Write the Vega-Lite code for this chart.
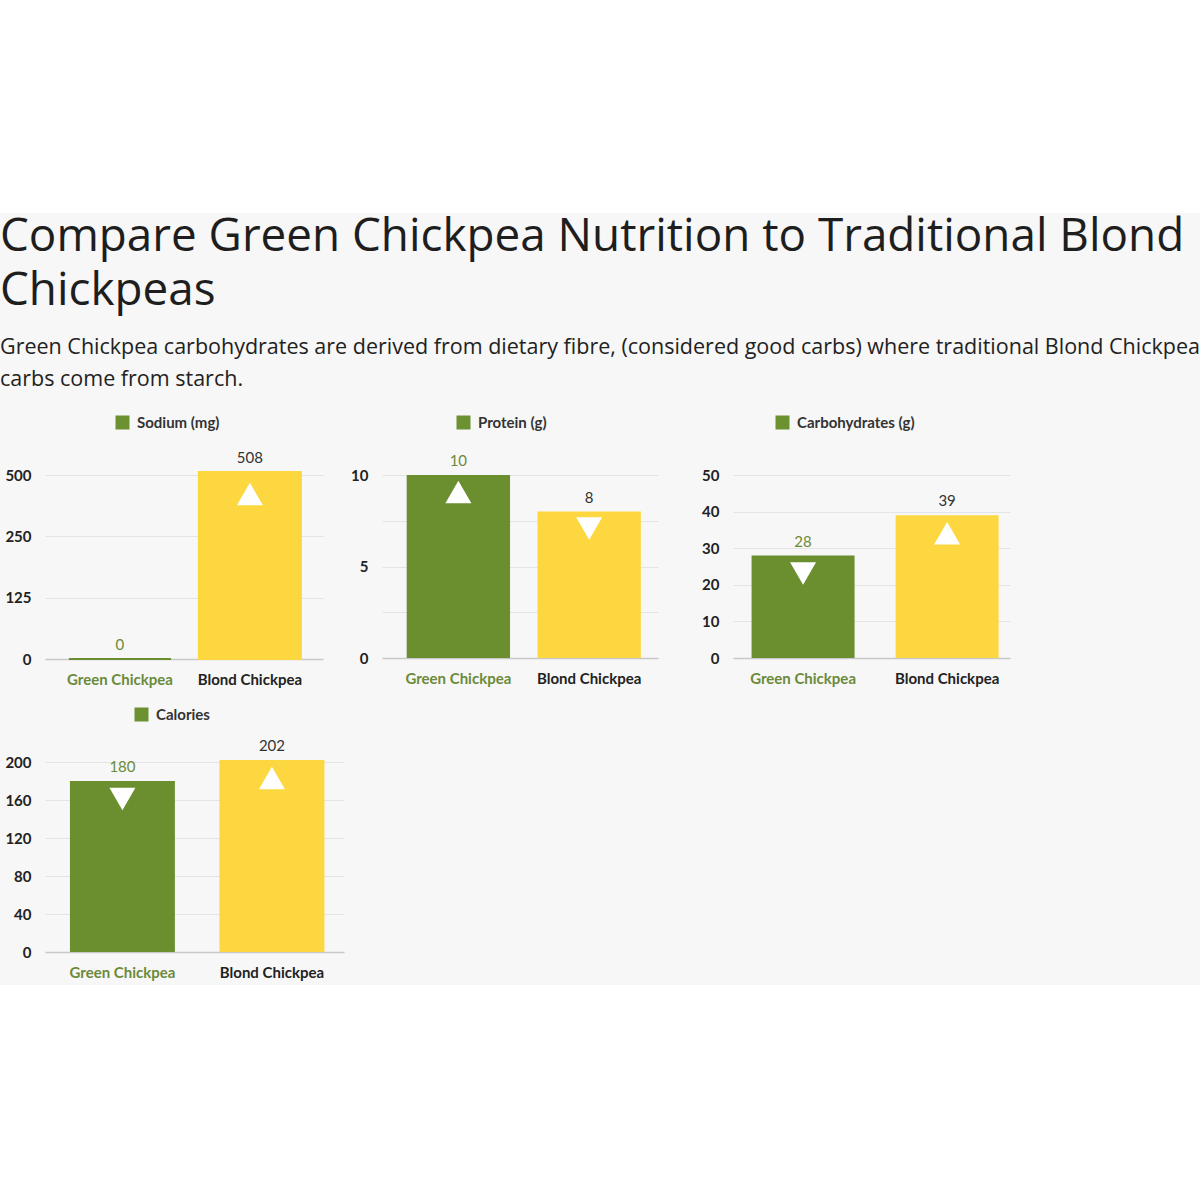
{
  "$schema": "https://vega.github.io/schema/vega-lite/v6.json",
  "background": "#f7f7f7",
  "padding": 0,
  "spacing": 0,
  "align": "none",
  "resolve": {"scale": {"opacity": "independent"}, "legend": {"opacity": "independent"}},
  "datasets": {
    "nutrition": [
      {"nutrient": "Sodium (mg)", "variety": "Green Chickpea", "value": 0, "arrow": "none"},
      {"nutrient": "Sodium (mg)", "variety": "Blond Chickpea", "value": 508, "arrow": "up"},
      {"nutrient": "Protein (g)", "variety": "Green Chickpea", "value": 10, "arrow": "up"},
      {"nutrient": "Protein (g)", "variety": "Blond Chickpea", "value": 8, "arrow": "down"},
      {"nutrient": "Carbohydrates (g)", "variety": "Green Chickpea", "value": 28, "arrow": "down"},
      {"nutrient": "Carbohydrates (g)", "variety": "Blond Chickpea", "value": 39, "arrow": "up"},
      {"nutrient": "Calories", "variety": "Green Chickpea", "value": 180, "arrow": "down"},
      {"nutrient": "Calories", "variety": "Blond Chickpea", "value": 202, "arrow": "up"}
    ]
  },
  "config": {
    "view": {"stroke": null},
    "font": "Lato",
    "axis": {"labelFont": "Lato", "labelFontSize": 15, "labelColor": "#222222", "labelFontWeight": "bold"},
    "axisX": {"domainColor": "#c8c8c8", "domainWidth": 1.5, "ticks": false, "grid": false, "labelAngle": 0, "labelPadding": 13},
    "axisY": {"domain": false, "ticks": false, "grid": true, "gridColor": "#e4e4e4", "gridWidth": 1, "labelPadding": 14},
    "legend": {"padding": 0, "labelFont": "Lato", "labelFontSize": 15, "labelColor": "#333333", "labelFontWeight": "bold", "symbolType": "square", "symbolSize": 196, "symbolFillColor": "#6b9130", "symbolStrokeWidth": 0, "labelOffset": 7},
    "title": {"font": "Open Sans", "fontSize": 45.8, "fontWeight": "normal", "color": "#1e1e1e", "anchor": "start", "frame": "bounds", "lineHeight": 54, "subtitleFont": "Open Sans", "subtitleFontSize": 21.5, "subtitleColor": "#222222", "subtitleLineHeight": 32, "subtitlePadding": 22, "offset": 24}
  },
  "vconcat": [
    {
      "width": 1110, "height": 123,
      "view": {"fill": "white", "stroke": "white", "strokeWidth": 90},
      "data": {"values": [{"k": 1}]},
      "mark": {"type": "text", "text": " "},
      "encoding": {}
    },
    {
      "title": {
        "text": ["Compare Green Chickpea Nutrition to Traditional Blond", "Chickpeas"],
        "subtitle": ["Green Chickpea carbohydrates are derived from dietary fibre, (considered good carbs) where traditional Blond Chickpea", "carbs come from starch."]
      },
      "spacing": 20,
      "align": "none",
      "resolve": {"scale": {"opacity": "independent"}, "legend": {"opacity": "independent"}},
      "vconcat": [
        {
          "spacing": 14,
          "resolve": {"scale": {"opacity": "independent"}, "legend": {"opacity": "independent"}},
          "hconcat": [
            {
              "width": 278, "height": 184,
              "data": {"name": "nutrition"},
              "transform": [{"filter": "datum.nutrient === 'Sodium (mg)'"}],
              "encoding": {
                "x": {"field": "variety", "type": "nominal", "sort": ["Green Chickpea", "Blond Chickpea"], "title": null,
                  "scale": {"paddingInner": 0.215, "paddingOuter": 0.177, "align": 0.52},
                  "axis": {"labelColor": {"condition": {"test": "datum.value === 'Green Chickpea'", "value": "#6b8a3a"}, "value": "#222222"}}},
                "y": {"field": "value", "type": "quantitative", "title": null,
                  "scale": {"domain": [0, 500], "nice": false},
                  "axis": {"values": [0, 166.667, 333.333, 500], "labelExpr": "datum.value < 1 ? '0' : datum.value < 200 ? '125' : datum.value < 400 ? '250' : '500'", "minExtent": 45}}
              },
              "layer": [
                {
                  "mark": {"type": "bar", "y2Offset": -3, "strokeWidth": 2},
                  "encoding": {
                    "color": {"field": "variety", "type": "nominal", "scale": {"domain": ["Green Chickpea", "Blond Chickpea"], "range": ["#6b8e2f", "#fdd73f"]}, "legend": null},
                    "stroke": {"field": "variety", "type": "nominal", "scale": {"domain": ["Green Chickpea", "Blond Chickpea"], "range": ["#6b8e2f", "#fdd73f"]}, "legend": null},
                    "opacity": {"field": "nutrient", "type": "ordinal", "scale": {"range": [1, 1]}, "legend": {"title": null, "orient": "none", "legendX": 70, "legendY": -60}}
                  }
                },
                {
                  "mark": {"type": "text", "baseline": "bottom", "dy": -6, "fontSize": 15, "font": "Lato"},
                  "encoding": {
                    "text": {"field": "value", "type": "quantitative"},
                    "color": {"condition": {"test": "datum.variety === 'Green Chickpea'", "value": "#6b8a3a"}, "value": "#333333"}
                  }
                },
                {
                  "transform": [{"filter": "datum.arrow !== 'none'"}],
                  "mark": {"type": "point", "filled": true, "fill": "white", "opacity": 1, "strokeWidth": 0, "size": 676, "yOffset": 22},
                  "encoding": {
                    "shape": {"field": "arrow", "type": "nominal", "scale": {"domain": ["up", "down"], "range": ["triangle-up", "triangle-down"]}, "legend": null}
                  }
                }
              ]
            },
            {
              "width": 276, "height": 183,
              "data": {"name": "nutrition"},
              "transform": [{"filter": "datum.nutrient === 'Protein (g)'"}],
              "encoding": {
                "x": {"field": "variety", "type": "nominal", "sort": ["Green Chickpea", "Blond Chickpea"], "title": null,
                  "scale": {"paddingInner": 0.21, "paddingOuter": 0.16, "align": 0.59},
                  "axis": {"labelColor": {"condition": {"test": "datum.value === 'Green Chickpea'", "value": "#6b8a3a"}, "value": "#222222"}}},
                "y": {"field": "value", "type": "quantitative", "title": null,
                  "scale": {"domain": [0, 10], "nice": false},
                  "axis": {"values": [0, 2.5, 5, 7.5, 10], "labelExpr": "datum.value % 5 === 0 ? datum.label : ''", "minExtent": 45}}
              },
              "layer": [
                {
                  "mark": {"type": "bar", "y2Offset": -2},
                  "encoding": {
                    "color": {"field": "variety", "type": "nominal", "scale": {"domain": ["Green Chickpea", "Blond Chickpea"], "range": ["#6b8e2f", "#fdd73f"]}, "legend": null},
                    "opacity": {"field": "nutrient", "type": "ordinal", "scale": {"range": [1, 1]}, "legend": {"title": null, "orient": "none", "legendX": 74, "legendY": -60}}
                  }
                },
                {
                  "mark": {"type": "text", "baseline": "bottom", "dy": -6, "fontSize": 15, "font": "Lato"},
                  "encoding": {
                    "text": {"field": "value", "type": "quantitative"},
                    "color": {"condition": {"test": "datum.variety === 'Green Chickpea'", "value": "#6b8a3a"}, "value": "#333333"}
                  }
                },
                {
                  "transform": [{"filter": "datum.arrow !== 'none'"}],
                  "mark": {"type": "point", "filled": true, "fill": "white", "opacity": 1, "strokeWidth": 0, "size": 676, "yOffset": 17},
                  "encoding": {
                    "shape": {"field": "arrow", "type": "nominal", "scale": {"domain": ["up", "down"], "range": ["triangle-up", "triangle-down"]}, "legend": null}
                  }
                }
              ]
            },
            {
              "width": 277, "height": 183,
              "data": {"name": "nutrition"},
              "transform": [{"filter": "datum.nutrient === 'Carbohydrates (g)'"}],
              "encoding": {
                "x": {"field": "variety", "type": "nominal", "sort": ["Green Chickpea", "Blond Chickpea"], "title": null,
                  "scale": {"paddingInner": 0.285, "paddingOuter": 0.104, "align": 0.62},
                  "axis": {"labelColor": {"condition": {"test": "datum.value === 'Green Chickpea'", "value": "#6b8a3a"}, "value": "#222222"}}},
                "y": {"field": "value", "type": "quantitative", "title": null,
                  "scale": {"domain": [0, 50], "nice": false},
                  "axis": {"values": [0, 10, 20, 30, 40, 50], "minExtent": 61}}
              },
              "layer": [
                {
                  "mark": {"type": "bar", "y2Offset": -2},
                  "encoding": {
                    "color": {"field": "variety", "type": "nominal", "scale": {"domain": ["Green Chickpea", "Blond Chickpea"], "range": ["#6b8e2f", "#fdd73f"]}, "legend": null},
                    "opacity": {"field": "nutrient", "type": "ordinal", "scale": {"range": [1, 1]}, "legend": {"title": null, "orient": "none", "legendX": 42, "legendY": -60}}
                  }
                },
                {
                  "mark": {"type": "text", "baseline": "bottom", "dy": -6, "fontSize": 15, "font": "Lato"},
                  "encoding": {
                    "text": {"field": "value", "type": "quantitative"},
                    "color": {"condition": {"test": "datum.variety === 'Green Chickpea'", "value": "#6b8a3a"}, "value": "#333333"}
                  }
                },
                {
                  "transform": [{"filter": "datum.arrow !== 'none'"}],
                  "mark": {"type": "point", "filled": true, "fill": "white", "opacity": 1, "strokeWidth": 0, "size": 676, "yOffset": 18},
                  "encoding": {
                    "shape": {"field": "arrow", "type": "nominal", "scale": {"domain": ["up", "down"], "range": ["triangle-up", "triangle-down"]}, "legend": null}
                  }
                }
              ]
            }
          ]
        },
        {
          "width": 299, "height": 190,
          "data": {"name": "nutrition"},
          "transform": [{"filter": "datum.nutrient === 'Calories'"}],
          "encoding": {
            "x": {"field": "variety", "type": "nominal", "sort": ["Green Chickpea", "Blond Chickpea"], "title": null,
              "scale": {"paddingInner": 0.298, "paddingOuter": 0.149, "align": 0.56},
              "axis": {"minExtent": 33, "labelColor": {"condition": {"test": "datum.value === 'Green Chickpea'", "value": "#6b8a3a"}, "value": "#222222"}}},
            "y": {"field": "value", "type": "quantitative", "title": null,
              "scale": {"domain": [0, 200], "nice": false},
              "axis": {"values": [0, 40, 80, 120, 160, 200], "minExtent": 43}}
          },
          "layer": [
            {
              "mark": {"type": "bar", "y2Offset": -2},
              "encoding": {
                "color": {"field": "variety", "type": "nominal", "scale": {"domain": ["Green Chickpea", "Blond Chickpea"], "range": ["#6b8e2f", "#fdd73f"]}, "legend": null},
                "opacity": {"field": "nutrient", "type": "ordinal", "scale": {"range": [1, 1]}, "legend": {"title": null, "orient": "none", "legendX": 89, "legendY": -55}}
              }
            },
            {
              "mark": {"type": "text", "baseline": "bottom", "dy": -6, "fontSize": 15, "font": "Lato"},
              "encoding": {
                "text": {"field": "value", "type": "quantitative"},
                "color": {"condition": {"test": "datum.variety === 'Green Chickpea'", "value": "#6b8a3a"}, "value": "#333333"}
              }
            },
            {
              "transform": [{"filter": "datum.arrow !== 'none'"}],
              "mark": {"type": "point", "filled": true, "fill": "white", "opacity": 1, "strokeWidth": 0, "size": 676, "yOffset": 18},
              "encoding": {
                "shape": {"field": "arrow", "type": "nominal", "scale": {"domain": ["up", "down"], "range": ["triangle-up", "triangle-down"]}, "legend": null}
              }
            }
          ]
        }
      ]
    },
    {
      "width": 1110, "height": 160,
      "view": {"fill": "white", "stroke": "white", "strokeWidth": 90},
      "data": {"values": [{"k": 1}]},
      "mark": {"type": "text", "text": " "},
      "encoding": {}
    }
  ]
}
